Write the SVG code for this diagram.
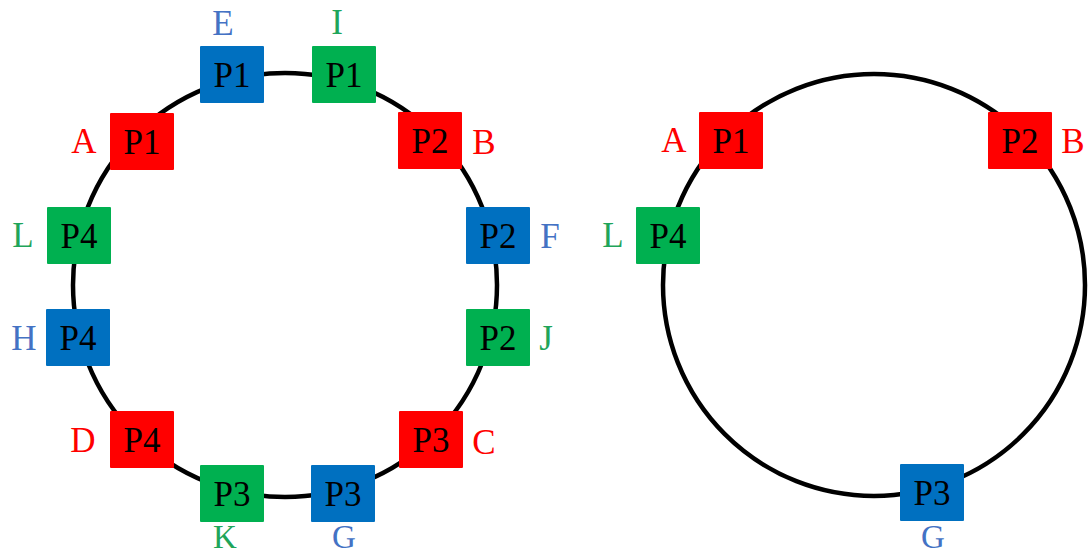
<svg xmlns="http://www.w3.org/2000/svg" width="1091" height="554" viewBox="0 0 1091 554">
<style>
.ring{fill:none;stroke:#000;stroke-width:4.5}
.box{stroke:none}
.r{fill:#FF0000}.b{fill:#0070C0}.g{fill:#00B050}
.t{font-family:"Liberation Serif","Times New Roman",serif;font-size:35px;text-anchor:middle;fill:#000}
.lr{fill:#FF0000}.lb{fill:#4472C4}.lg{fill:#1FA55A}
.sm{font-size:33px}
</style>
<rect width="1091" height="554" fill="#fff"/>
<g id="connectors">
<circle class="ring" cx="285" cy="285" r="212"/>
<circle class="ring" cx="874" cy="285" r="211"/>
</g>
<g id="E"><rect class="box b" x="200" y="46" width="64" height="57" rx="1"/><text class="t" x="232" y="87">P1</text><text class="t lb" x="223" y="35">E</text></g>
<g id="I"><rect class="box g" x="312" y="46" width="64" height="57" rx="1"/><text class="t" x="344" y="87">P1</text><text class="t lg" x="337" y="34">I</text></g>
<g id="A"><rect class="box r" x="110" y="113" width="64" height="57" rx="1"/><text class="t" x="142" y="154">P1</text><text class="t lr" x="84" y="153">A</text></g>
<g id="B"><rect class="box r" x="398" y="112" width="64" height="57" rx="1"/><text class="t" x="430" y="153">P2</text><text class="t lr" x="484" y="154">B</text></g>
<g id="L"><rect class="box g" x="47" y="207" width="64" height="57" rx="1"/><text class="t" x="79" y="248">P4</text><text class="t lg" x="23" y="247">L</text></g>
<g id="F"><rect class="box b" x="466" y="207" width="64" height="57" rx="1"/><text class="t" x="498" y="248">P2</text><text class="t lb" x="550" y="248">F</text></g>
<g id="H"><rect class="box b" x="46" y="309" width="64" height="57" rx="1"/><text class="t" x="78" y="350">P4</text><text class="t lb" x="24" y="350">H</text></g>
<g id="J"><rect class="box g" x="466" y="309" width="64" height="57" rx="1"/><text class="t" x="498" y="350">P2</text><text class="t lg" x="546" y="350">J</text></g>
<g id="D"><rect class="box r" x="110" y="411" width="64" height="57" rx="1"/><text class="t" x="142" y="452">P4</text><text class="t lr" x="83" y="452">D</text></g>
<g id="C"><rect class="box r" x="399" y="411" width="64" height="57" rx="1"/><text class="t" x="431" y="452">P3</text><text class="t lr" x="484" y="454">C</text></g>
<g id="K"><rect class="box g" x="200" y="465" width="64" height="57" rx="1"/><text class="t" x="232" y="506">P3</text><text class="t lg sm" x="225" y="548">K</text></g>
<g id="G"><rect class="box b" x="311" y="465" width="64" height="57" rx="1"/><text class="t" x="343" y="506">P3</text><text class="t lb sm" x="344" y="548">G</text></g>
<g id="A2"><rect class="box r" x="699" y="112" width="64" height="57" rx="1"/><text class="t" x="731" y="153">P1</text><text class="t lr" x="674" y="152">A</text></g>
<g id="B2"><rect class="box r" x="988" y="112" width="64" height="57" rx="1"/><text class="t" x="1020" y="153">P2</text><text class="t lr" x="1073" y="153">B</text></g>
<g id="L2"><rect class="box g" x="636" y="207" width="64" height="57" rx="1"/><text class="t" x="668" y="248">P4</text><text class="t lg" x="613" y="247">L</text></g>
<g id="G2"><rect class="box b" x="900" y="464" width="64" height="57" rx="1"/><text class="t" x="932" y="505">P3</text><text class="t lb sm" x="933" y="548">G</text></g>
</svg>
